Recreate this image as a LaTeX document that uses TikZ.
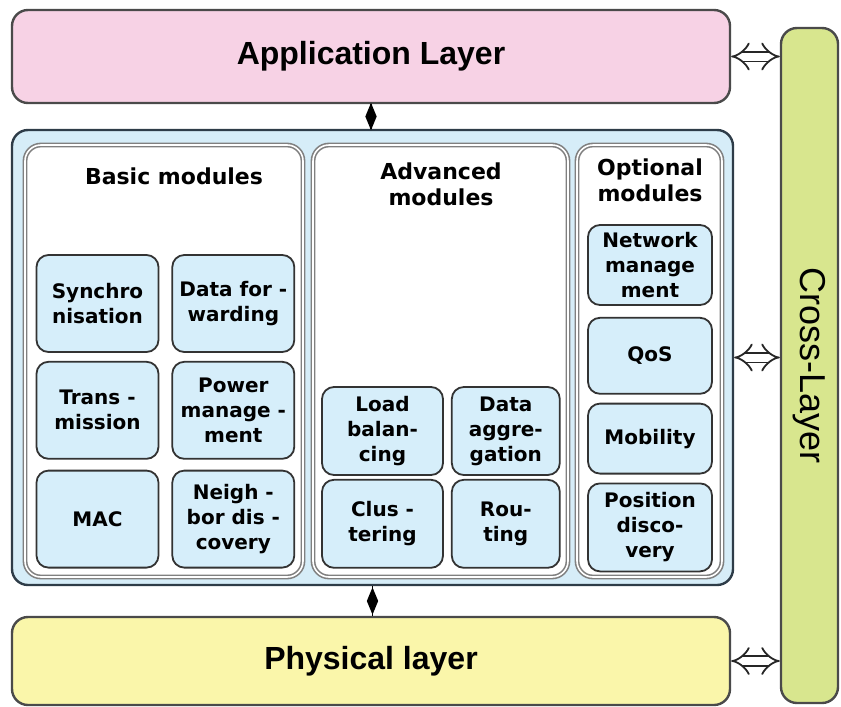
\documentclass[tikz,border=0pt]{standalone}
\usepackage{fontspec}
\setmainfont{Liberation Sans}
\newfontfamily\modfont{DejaVu Sans}
\usetikzlibrary{arrows.meta, positioning, shapes.geometric}

\definecolor{applink}{HTML}{F7D2E5}
\definecolor{physyellow}{HTML}{FAF6AA}
\definecolor{crossgreen}{HTML}{D8E68E}
\definecolor{midblue}{HTML}{D6EDF8}
\definecolor{modblue}{HTML}{D6EEFA}
\definecolor{edgegray}{HTML}{4A4A4A}
\definecolor{midedge}{HTML}{2E3C48}

\tikzset{
	layer/.style={draw=edgegray, line width=1.2pt, rounded corners=8pt, inner sep=0pt,
		font=\bfseries\fontsize{16}{19}\selectfont},
	group/.style={draw=black!50, line width=0.8pt, double=white, double distance=0.8pt,
		fill=white, rounded corners=8pt, inner sep=0pt, minimum height=216pt},
	module/.style={draw=black!80, line width=0.9pt, fill=modblue, rounded corners=6pt,
		align=center, inner sep=0pt, font=\modfont\bfseries\fontsize{10}{12.5}\selectfont},
	title/.style={align=center, font=\modfont\bfseries\fontsize{11}{13}\selectfont},
	dmd/.style={diamond, fill=black, inner sep=0pt, minimum width=6pt, minimum height=14pt},
	xlink/.style={draw=black!85, line width=0.9pt, double=white, double distance=4pt,
		{Implies[length=5pt, width=13pt]}-{Implies[length=5pt, width=13pt]}}
}

\begin{document}
\begin{tikzpicture}[x=0.5pt, y=-0.5pt]
	\useasboundingbox (0,0) rectangle (841,707);

	% layers
	\node [layer, fill=applink, minimum width=359pt, minimum height=46.5pt]	(app) at (371,56.5)	{Application Layer};
	\node [layer, fill=physyellow, minimum width=359pt, minimum height=44pt]	(phy) at (371,661)	{Physical layer};
	\node [layer, fill=crossgreen, minimum width=28.5pt, minimum height=337.5pt,
		font=\fontsize{18}{21}\selectfont]										(cross) at (809.5,365.5)	{\rotatebox{-90}{Cross-Layer}};

	\node [draw=midedge, line width=1.2pt, fill=midblue, rounded corners=8pt,
		minimum width=360.5pt, minimum height=227.5pt]						(mid) at (372.5,357.5)	{};

	% module groups
	\node [group, minimum width=139pt]		(basic) at (164,361)	{};
	\node [group, minimum width=127.5pt]	(adv) at (440.5,361)	{};
	\node [group, minimum width=72.5pt]		(opt) at (649.5,361)	{};

	\node [title]	(basict) at (174,176)	{Basic modules};
	\node [title]	(advt) at (441,184)		{Advanced\\modules};
	\node [title]	(optt) at (650,180)		{Optional\\modules};

	% basic modules
	\node [module, minimum width=61pt, minimum height=48.5pt]	(syn) at (97.5,303.5)		{Synchro\\nisation};
	\node [module, minimum width=61pt, minimum height=48.5pt]	(dfw) [right = 6pt of syn]	{Data for -\\warding};
	\node [module, minimum width=61pt, minimum height=48.5pt]	(trm) [below = 4pt of syn]	{Trans -\\mission};
	\node [module, minimum width=61pt, minimum height=48.5pt]	(pwr) [right = 6pt of trm]	{Power\\manage -\\ment};
	\node [module, minimum width=61pt, minimum height=48.5pt]	(mac) [below = 5pt of trm]	{MAC};
	\node [module, minimum width=61pt, minimum height=48.5pt]	(nbd) [right = 6pt of mac]	{Neigh -\\bor dis -\\covery};

	% advanced modules
	\node [module, minimum width=60.5pt, minimum height=44pt]	(lod) at (382.5,431)			{Load\\balan-\\cing};
	\node [module, minimum width=54pt, minimum height=44pt]		(dag) [right = 3.5pt of lod]	{Data\\aggre-\\gation};
	\node [module, minimum width=60.5pt, minimum height=44pt]	(cls) [below = 1.5pt of lod]	{Clus -\\tering};
	\node [module, minimum width=54pt, minimum height=44pt]		(rou) [right = 3.5pt of cls]	{Rou-\\ting};

	% optional modules
	\node [module, minimum width=62pt, minimum height=40pt]	(net) at (650,265)			{Network\\manage\\ment};
	\node [module, minimum width=62pt, minimum height=38pt]	(qos) [below = 5.5pt of net]	{QoS};
	\node [module, minimum width=62pt, minimum height=35pt]	(mob) [below = 4pt of qos]	{Mobility};
	\node [module, minimum width=62pt, minimum height=44pt]	(pos) [below = 4pt of mob]	{Position\\disco-\\very};

	% links
	\draw [line width=0.8pt] (app.south) -- node [dmd] (d1) {} (app.south |- mid.north);
	\draw [line width=0.8pt] (mid.south) -- node [dmd] (d2) {} (mid.south |- phy.north);

	\draw [xlink] (app.east) -- (app.east -| cross.west);
	\draw [xlink] (mid.east) -- (mid.east -| cross.west);
	\draw [xlink] (phy.east) -- (phy.east -| cross.west);

\end{tikzpicture}
\end{document}
